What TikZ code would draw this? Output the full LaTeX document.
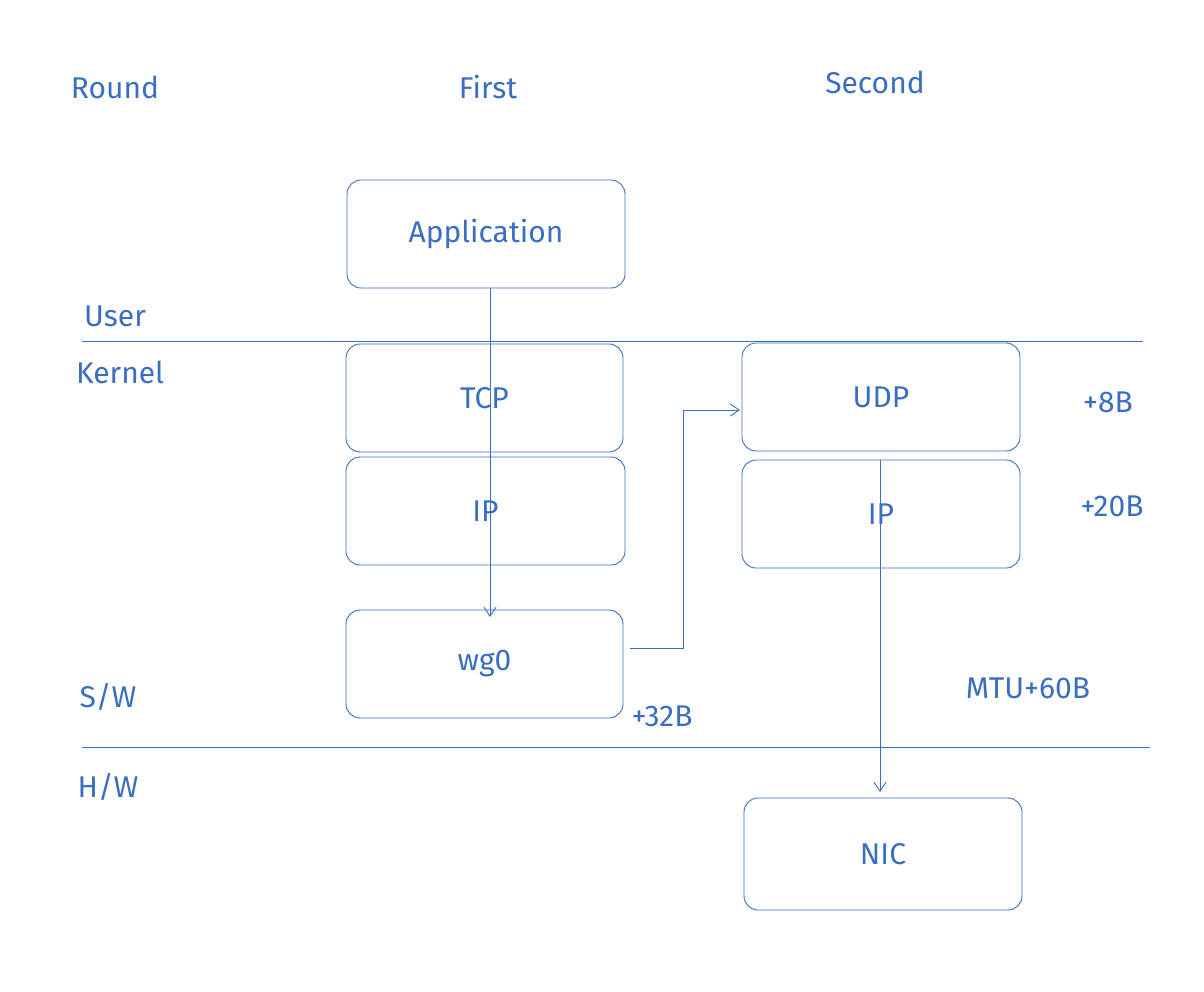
\documentclass[tikz,border=0pt]{standalone}
\usepackage{fontspec}
\setmainfont{Fira Sans}
\usetikzlibrary{arrows.meta}
\definecolor{ink}{HTML}{3A6EC0}
\begin{document}
\begin{tikzpicture}[x=1pt,y=-1pt,
  box/.style={draw=ink,rounded corners=14pt,line width=0.9pt},
  lbl/.style={text=ink,font=\fontsize{30}{34}\selectfont},
  ln/.style={draw=ink,line width=0.9pt},
  arr/.style={ln,->,>={Straight Barb[length=9pt,width=12pt]}}]
\useasboundingbox (0,0) rectangle (1204,992);
\node[box,minimum width=278pt,minimum height=108pt,lbl] (app) at (486,234) {Application};
\node[box,minimum width=277pt,minimum height=108pt,lbl] (tcp) at (484.5,398) {TCP};
\node[box,minimum width=279pt,minimum height=108pt,lbl] (ipl) at (485.5,511) {IP};
\node[box,minimum width=277pt,minimum height=108pt,lbl] (wg) at (484.5,664) {wg0};
\node[box,minimum width=278pt,minimum height=108pt,lbl] (udp) at (881,397) {UDP};
\node[box,minimum width=278pt,minimum height=108pt,lbl] (ipr) at (881,514) {IP};
\node[box,minimum width=278pt,minimum height=112pt,lbl] (nic) at (883,854) {NIC};
\coordinate (l1a) at (82,341); \coordinate (l1b) at (1143,341);
\coordinate (l2a) at (82,747); \coordinate (l2b) at (1150,747);
\draw[ln] (l1a) -- (l1b);
\draw[ln] (l2a) -- (l2b);
\node[lbl] (r) at (115,87) {Round};
\node[lbl] (f) at (488,87) {First};
\node[lbl] (s) at (875,82) {Second};
\node[lbl] (u) at (115,316) {User};
\node[lbl] (k) at (120,372) {Kernel};
\node[lbl] (sw) at (108,697) {S/W};
\node[lbl] (hw) at (108,787) {H/W};
\node[lbl] (p8) at (1108,402) {+8B};
\node[lbl] (p20) at (1112,506) {+20B};
\node[lbl] (mtu) at (1028,688) {MTU+60B};
\node[lbl] (p32) at (662,716) {+32B};
\coordinate (a0) at (490,288);
\coordinate (a0e) at (490,617);
\draw[arr] (a0) -- (a0e);
\coordinate (a1) at (630,648);
\coordinate (a1e) at (740,410);
\draw[arr] (a1) -- (683,648) -- (683,410) -- (a1e);
\coordinate (a2) at (880,460);
\coordinate (a2e) at (880,792);
\draw[arr] (a2) -- (a2e);
\end{tikzpicture}
\end{document}
